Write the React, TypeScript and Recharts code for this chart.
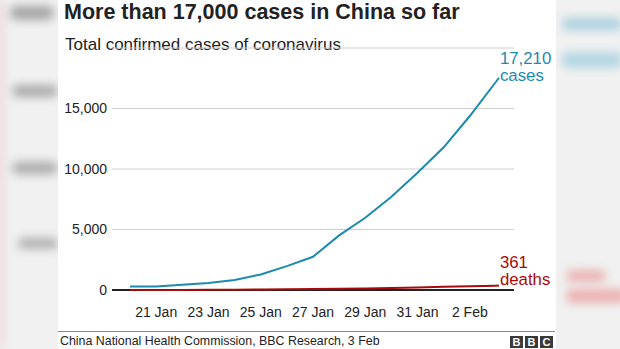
import React from "react";
import { CartesianGrid, LabelList, Line, LineChart, ReferenceLine, XAxis, YAxis } from "recharts";

const dates = ["20 Jan", "21 Jan", "22 Jan", "23 Jan", "24 Jan", "25 Jan", "26 Jan", "27 Jan", "28 Jan", "29 Jan", "30 Jan", "31 Jan", "1 Feb", "2 Feb", "3 Feb"];
const cases = [282, 291, 440, 571, 830, 1287, 1975, 2744, 4515, 5974, 7711, 9692, 11791, 14380, 17210];
const deaths = [6, 6, 9, 17, 25, 41, 56, 80, 106, 132, 170, 213, 259, 304, 361];
const xTicks = [1, 3, 5, 7, 9, 11, 13];
const yTicks = [0, 5000, 10000, 15000];

const data = dates.map((d, i) => ({ day: i, date: d, cases: cases[i], deaths: deaths[i] }));

const FONT = "'Liberation Sans', Arial, Helvetica, sans-serif";
const BLUE = "#1b8aae";
const RED = "#a80a0a";

// two-line label at the last point of a series
const endLabel = (top: string, bottom: string, color: string, lead: number) => (props: any) => {
    if (props.index !== data.length - 1) return null;
    const x = Number(props.x);
    const y = Number(props.y);
    return (
        <g>
            <line x1={x} y1={y} x2={x + 3} y2={y - lead} stroke={color} strokeWidth={2} />
            <text x={x + 4} y={y - 18} fill={color} fontSize={16.8} fontFamily={FONT}>{top}</text>
            <text x={x + 4} y={y - 0.5} fill={color} fontSize={16.8} fontFamily={FONT}>{bottom}</text>
        </g>
    );
};

const ghost = (extra: React.CSSProperties): React.CSSProperties => ({
    position: "absolute",
    filter: "blur(5px)",
    borderRadius: 6,
    ...extra,
});

export default function App() {
    return (
        <div style={{ position: "absolute", left: 0, top: 0, width: 620, height: 349, overflow: "hidden", background: "#f1f1f1", fontFamily: FONT }}>
            {/* blurred backdrop */}
            <div style={ghost({ left: -4, top: 0, width: 8, height: 349, background: "#f0d8d8" })} />
            <div style={ghost({ left: 10, top: 6, width: 44, height: 14, background: "#a5a5a5" })} />
            <div style={ghost({ left: 12, top: 85, width: 46, height: 12, background: "#aaaaaa" })} />
            <div style={ghost({ left: 12, top: 162, width: 46, height: 12, background: "#aaaaaa" })} />
            <div style={ghost({ left: 18, top: 238, width: 40, height: 11, background: "#b0b0b0" })} />
            <div style={ghost({ left: 562, top: 18, width: 60, height: 12, background: "#a9cfdc" })} />
            <div style={ghost({ left: 562, top: 52, width: 60, height: 16, background: "#b2d6e2" })} />
            <div style={ghost({ left: 566, top: 270, width: 40, height: 12, background: "#ebb2b2" })} />
            <div style={ghost({ left: 566, top: 289, width: 60, height: 14, background: "#ecb0b0" })} />

            {/* white panel */}
            <div style={{ position: "absolute", left: 58, top: 0, width: 498, height: 349, background: "#fff" }} />

            <div style={{ position: "absolute", left: 64, top: 0, fontSize: 21.5, fontWeight: "bold", color: "#222", lineHeight: "24px", whiteSpace: "nowrap" }}>
                More than 17,000 cases in China so far
            </div>
            <div style={{ position: "absolute", left: 65, top: 35, fontSize: 17, color: "#222", lineHeight: "20px", whiteSpace: "nowrap" }}>
                Total confirmed cases of coronavirus
            </div>

            <div style={{ position: "absolute", left: 0, top: 0 }}>
                <LineChart width={620} height={349} data={data} margin={{ top: 48, right: 106, bottom: 29, left: 58 }}>
                    <CartesianGrid vertical={false} stroke="#cfcfcf" />
                    <XAxis
                        dataKey="day"
                        type="number"
                        domain={[-0.69, 14.69]}
                        ticks={xTicks}
                        tickFormatter={(v: number) => dates[v]}
                        axisLine={false}
                        tickLine={false}
                        height={30}
                        tickSize={6}
                        tickMargin={11}
                        tick={{ fill: "#222", fontSize: 14, fontFamily: FONT }}
                        interval={0}
                    />
                    <YAxis
                        type="number"
                        domain={[0, 20000]}
                        ticks={yTicks}
                        tickFormatter={(v: number) => v.toLocaleString("en-GB")}
                        axisLine={false}
                        tickLine={false}
                        width={54}
                        tickSize={3}
                        tickMargin={2}
                        tick={{ fill: "#222", fontSize: 14, fontFamily: FONT }}
                    />
                    <ReferenceLine y={0} stroke="#222" strokeWidth={2} />
                    <Line dataKey="deaths" stroke={RED} strokeWidth={2} dot={false} isAnimationActive={false}>
                        <LabelList content={endLabel("361", "deaths", RED, 0)} />
                    </Line>
                    <Line dataKey="cases" stroke={BLUE} strokeWidth={2} dot={false} isAnimationActive={false}>
                        <LabelList content={endLabel("17,210", "cases", BLUE, 4)} />
                    </Line>
                </LineChart>
            </div>

            {/* footer */}
            <div style={{ position: "absolute", left: 58, top: 331, width: 497, height: 1, background: "#8a8a8a" }} />
            <div style={{ position: "absolute", left: 60, top: 334, fontSize: 12.4, color: "#222", lineHeight: "14px", whiteSpace: "nowrap" }}>
                China National Health Commission, BBC Research, 3 Feb
            </div>
            <div style={{ position: "absolute", left: 510, top: 336, display: "flex", gap: 2 }}>
                {["B", "B", "C"].map((c, i) => (
                    <div key={i} style={{ width: 13, height: 12, background: "#3a3a3a", color: "#fff", fontSize: 11, fontWeight: "bold", lineHeight: "12px", textAlign: "center" }}>
                        {c}
                    </div>
                ))}
            </div>
        </div>
    );
}
